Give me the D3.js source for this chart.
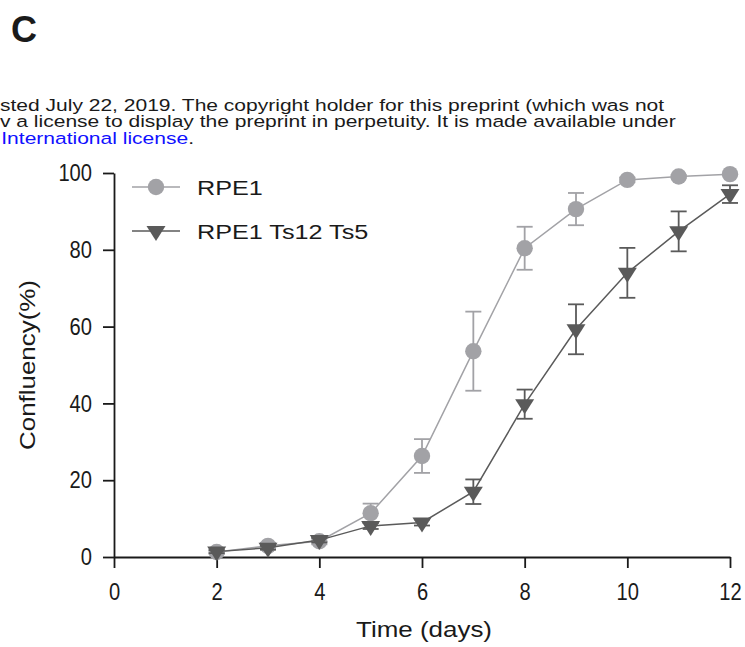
<!DOCTYPE html>
<html>
<head>
<meta charset="utf-8">
<script src="https://cdn.jsdelivr.net/npm/d3@7"></script>
<style>
  html, body { margin: 0; padding: 0; background: #fff; }
  svg { display: block; font-family: "Liberation Sans", Arial, Helvetica, sans-serif; }
</style>
</head>
<body>
<svg id="chart" width="745" height="647"></svg>
<script>
// Days of measurement
const days = [2, 3, 4, 5, 6, 7, 8, 9, 10, 11, 12];

// RPE1 confluency (%) mean and SD
const rpe1Mean = [1.3, 2.9, 4.1, 11.4, 26.3, 53.6, 80.4, 90.6, 98.2, 99.1, 99.7];
const rpe1Sd   = [0.5, 0.8, 0.8, 2.5, 4.4, 10.3, 5.6, 4.2, 0.6, 0.4, 0.1];

// RPE1 Ts12 Ts5 confluency (%) mean and SD
const tsMean = [1.4, 2.4, 4.4, 8.1, 9.0, 17.0, 39.8, 59.3, 74.0, 84.8, 94.5];
const tsSd   = [0.4, 0.5, 0.6, 0.8, 0.8, 3.2, 3.8, 6.5, 6.5, 5.2, 2.3];

const xTicks = [0, 2, 4, 6, 8, 10, 12];
const yTicks = [0, 20, 40, 60, 80, 100];

const seriesNames = ["RPE1", "RPE1 Ts12 Ts5"];

const headerLines = [
  "sted July 22, 2019. The copyright holder for this preprint (which was not",
  "v a license to display the preprint in perpetuity. It is made available under"
];

const svg = d3.select("#chart");
const ink = "#1a1a1a";

// Panel letter
svg.append("text")
  .attr("x", 11).attr("y", 42)
  .attr("font-size", 36).attr("font-weight", "bold")
  .attr("fill", ink)
  .text("C");

// Header notice lines (wide-set type)
const hdr = svg.append("g")
  .attr("transform", "scale(1.29,1)")
  .attr("font-size", 16.3).attr("fill", ink);
headerLines.forEach((t, i) => {
  hdr.append("text").attr("x", 0).attr("y", 111 + i * 16.5).text(t);
});
const last = hdr.append("text").attr("x", 1).attr("y", 144);
last.append("tspan").attr("fill", "#1010ff").text("International license");
last.append("tspan").attr("fill", ink).text(".");

// Scales
const x = d3.scaleLinear().domain([0, 12]).range([114, 730]);
const y = d3.scaleLinear().domain([0, 100]).range([557, 173]);

// Axes
const tickFont = 24, tickSqueeze = 0.84;
const xAxis = svg.append("g")
  .attr("transform", `translate(0,${y(0)})`)
  .call(d3.axisBottom(x).tickValues(xTicks).tickSize(11).tickPadding(15).tickSizeOuter(0));
const yAxis = svg.append("g")
  .attr("transform", `translate(${x(0)},0)`)
  .call(d3.axisLeft(y).tickValues(yTicks).tickSize(11).tickPadding(10).tickSizeOuter(0));

[xAxis, yAxis].forEach(g => {
  g.select(".domain").attr("stroke", ink).attr("stroke-width", 1.8);
  g.selectAll(".tick line").attr("stroke", ink).attr("stroke-width", 1.8);
  g.selectAll(".tick text")
    .attr("fill", ink)
    .attr("font-size", tickFont)
    .attr("font-family", "Liberation Sans, Arial, sans-serif")
    .attr("transform", `scale(${tickSqueeze},1)`);
});
// keep the right edge of the y labels at the same gap from the axis after squeezing
yAxis.selectAll(".tick text").attr("x", -22 / tickSqueeze);

// Axis titles
svg.append("text")
  .attr("transform", `translate(35,${(y(0) + y(100)) / 2}) rotate(-90)`)
  .attr("text-anchor", "middle")
  .attr("font-size", 22).attr("fill", ink)
  .attr("textLength", 170).attr("lengthAdjust", "spacingAndGlyphs")
  .text("Confluency(%)");

svg.append("text")
  .attr("x", 424).attr("y", 637)
  .attr("text-anchor", "middle")
  .attr("font-size", 22).attr("fill", ink)
  .attr("textLength", 136).attr("lengthAdjust", "spacingAndGlyphs")
  .text("Time (days)");

// Marker shapes
const triPath = "M-9.5,-5L9.5,-5L0,10Z";

const series = [
  { name: seriesNames[0], mean: rpe1Mean, sd: rpe1Sd, color: "#a2a2a6", shape: "circle" },
  { name: seriesNames[1], mean: tsMean, sd: tsSd, color: "#5a5a5a", shape: "triangle" }
];

const line = d3.line().x(d => x(d[0])).y(d => y(d[1]));

function drawMarker(g, shape, color, cx, cy) {
  if (shape === "circle") {
    g.append("circle").attr("cx", cx).attr("cy", cy).attr("r", 8.2).attr("fill", color);
  } else {
    g.append("path").attr("d", triPath)
      .attr("transform", `translate(${cx},${cy})`).attr("fill", color);
  }
}

series.forEach(s => {
  const g = svg.append("g");
  const pts = days.map((d, i) => [d, s.mean[i], s.sd[i]]);

  // Error bars
  const eb = g.append("g").attr("stroke", s.color).attr("stroke-width", 1.8).attr("fill", "none");
  pts.forEach(p => {
    const top = y(p[1] + p[2]), bot = y(p[1] - p[2]), cx = x(p[0]);
    eb.append("line").attr("x1", cx).attr("x2", cx).attr("y1", top).attr("y2", bot);
    eb.append("line").attr("x1", cx - 8).attr("x2", cx + 8).attr("y1", top).attr("y2", top);
    eb.append("line").attr("x1", cx - 8).attr("x2", cx + 8).attr("y1", bot).attr("y2", bot);
  });

  // Connecting line
  g.append("path").datum(pts)
    .attr("d", line)
    .attr("fill", "none")
    .attr("stroke", s.color)
    .attr("stroke-width", 1.5);

  // Markers
  pts.forEach(p => drawMarker(g, s.shape, s.color, x(p[0]), y(p[1])));
});

// Legend
const legend = svg.append("g");
series.forEach((s, i) => {
  const ly = 187 + i * 44;
  const row = legend.append("g");
  row.append("line").attr("x1", 132).attr("x2", 180).attr("y1", ly).attr("y2", ly)
    .attr("stroke", s.color).attr("stroke-width", 1.5);
  drawMarker(row, s.shape, s.color, 156, ly);
  row.append("text")
    .attr("transform", `translate(197,${ly}) scale(1.2,1)`)
    .attr("dy", "0.36em")
    .attr("font-size", 21).attr("fill", ink)
    .text(s.name);
});
</script>
</body>
</html>
